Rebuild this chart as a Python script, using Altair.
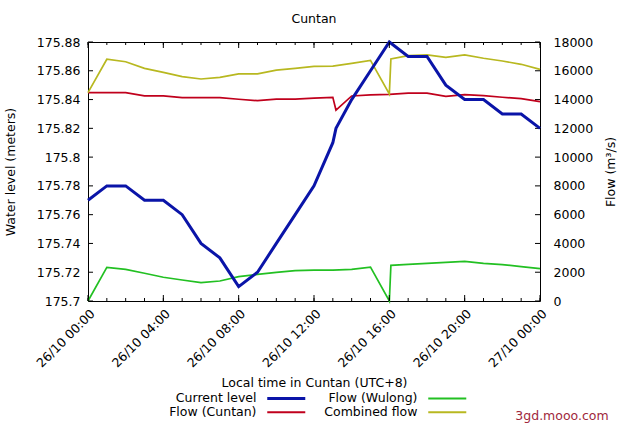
import altair as alt
import pandas as pd

# ---------------- data ----------------
DAY = "2018-10-26"
hours = [f"{DAY}T{h:02d}:00" for h in range(24)] + ["2018-10-27T00:00"]

level_times = hours[:14] + [f"{DAY}T13:10"] + hours[14:]
level_values = [175.77, 175.78, 175.78, 175.77, 175.77, 175.76, 175.74, 175.73,
                175.71, 175.72, 175.74, 175.76, 175.78, 175.81, 175.82,
                175.84, 175.86, 175.88, 175.87, 175.87, 175.85, 175.84, 175.84,
                175.83, 175.83, 175.82]

cuntan_times = level_times
cuntan_flow = [14480, 14480, 14480, 14250, 14250, 14130, 14130, 14130, 14020,
               13920, 14030, 14030, 14100, 14150, 13270,
               14250, 14320, 14360, 14450, 14450, 14220, 14340, 14270, 14160,
               14060, 13850]

wulong_times = hours[:17] + [f"{DAY}T16:05"] + hours[17:]
wulong_flow = [0, 2340, 2200, 1930, 1650, 1460, 1280, 1390, 1690, 1850, 1990,
               2110, 2150, 2150, 2200, 2360, 0, 2480,
               2550, 2620, 2690, 2750, 2620, 2530, 2390, 2250]

combined_times = wulong_times
combined_flow = [14480, 16800, 16630, 16170, 15890, 15590, 15430, 15545, 15780,
                 15780, 16050, 16170, 16300, 16330, 16520, 16720, 14390, 16820,
                 17050, 17100, 16930, 17100, 16870, 16680, 16450, 16100]

series_order = ["Current level", "Flow (Wulong)", "Flow (Cuntan)", "Combined flow"]
series_colors = ["#0a14a8", "#22c022", "#c0001c", "#b8b820"]

level_ticks = [175.70, 175.72, 175.74, 175.76, 175.78, 175.80, 175.82, 175.84, 175.86, 175.88]
flow_ticks = [0, 2000, 4000, 6000, 8000, 10000, 12000, 14000, 16000, 18000]
major_hours = [0, 4, 8, 12, 16, 20, 24]
minor_hours = list(range(25))

title_text = "Cuntan"
x_title = "Local time in Cuntan (UTC+8)"
y_left_title = "Water level (meters)"
y_right_title = "Flow (m³/s)"
watermark = "3gd.mooo.com"

level_df = pd.DataFrame({"time": level_times, "level": level_values,
                         "series": "Current level"})
flow_df = pd.concat([
    pd.DataFrame({"time": cuntan_times, "flow": cuntan_flow, "series": "Flow (Cuntan)"}),
    pd.DataFrame({"time": wulong_times, "flow": wulong_flow, "series": "Flow (Wulong)"}),
    pd.DataFrame({"time": combined_times, "flow": combined_flow, "series": "Combined flow"}),
], ignore_index=True)
wm_df = pd.DataFrame({"t": [watermark]})
minor_df = pd.DataFrame({"time": [hours[h] for h in minor_hours]})
major_df = pd.DataFrame({"time": [hours[h] for h in major_hours]})
lt_df = pd.DataFrame({"level": level_ticks})
ft_df = pd.DataFrame({"flow": flow_ticks})


def dt(h):
    return alt.DateTime(year=2018, month=10, date=26 + h // 24, hours=h % 24)


major_vals = [dt(h) for h in major_hours]

# ---------------- layout ----------------
W, H = 452, 259
FONT = "DejaVu Sans"
FS = 12.5
TICK = "black"

xs = alt.Scale(domain=[dt(0), dt(24)], nice=False)
level_scale = alt.Scale(domain=[175.7, 175.88], nice=False, zero=False)
flow_scale = alt.Scale(domain=[0, 18000], nice=False)

x_axis = alt.Axis(orient="bottom", format="%d/%m %H:%M", values=major_vals,
                  labelAngle=-45, ticks=False, labelPadding=6,
                  title=x_title, titlePadding=7)
level_axis = alt.Axis(orient="left", values=level_ticks, format=".2~f", ticks=False,
                      labelPadding=8, title=y_left_title, titlePadding=19)
flow_axis = alt.Axis(orient="right", values=flow_ticks, format="d", ticks=False,
                     labelPadding=13, title=y_right_title, titleAngle=270,
                     titlePadding=25)

legend = alt.Legend(orient="none", legendX=156, legendY=350, columns=2, direction="horizontal",
                    title=None, symbolType="M2.43,0L7.86,0", symbolSize=196,
                    symbolStrokeWidth={"expr": "datum.value == 'Current level' ? 3 : 2"},
                    labelAlign="right", labelOffset=0,
                    symbolOffset=0, columnPadding=12, rowPadding=1,
                    labelFontSize=FS, labelFont=FONT, labelColor="black")
color_enc = alt.Color("series:N", scale=alt.Scale(domain=series_order, range=series_colors),
                      legend=legend)

# flow group
f_lines = alt.Chart(flow_df).mark_line(strokeWidth=1.7).encode(
    x=alt.X("time:T", scale=xs, axis=x_axis),
    y=alt.Y("flow:Q", scale=flow_scale, axis=flow_axis),
    color=color_enc,
)
f_ticks = alt.Chart(ft_df).mark_rule(color=TICK, strokeWidth=1).encode(
    y=alt.Y("flow:Q", scale=flow_scale, axis=flow_axis),
    x=alt.value(W - 5), x2=alt.value(W),
)
flow_group = alt.layer(f_lines, f_ticks)

# level group
l_line = alt.Chart(level_df).mark_line(strokeWidth=3).encode(
    x=alt.X("time:T", scale=xs, axis=x_axis),
    y=alt.Y("level:Q", scale=level_scale, axis=level_axis),
    color=color_enc,
)
l_ticks = alt.Chart(lt_df).mark_rule(color=TICK, strokeWidth=1).encode(
    y=alt.Y("level:Q", scale=level_scale, axis=level_axis),
    x=alt.value(0), x2=alt.value(5),
)


def xticks(df, y0, y1):
    return alt.Chart(df).mark_rule(color=TICK, strokeWidth=1).encode(
        x=alt.X("time:T", scale=xs, axis=x_axis),
        y=alt.value(y0), y2=alt.value(y1),
    )


level_group = alt.layer(
    l_line, l_ticks,
    xticks(minor_df, 0, 3), xticks(major_df, 0, 6),
    xticks(minor_df, H - 3, H), xticks(major_df, H - 6, H),
)

wm = alt.Chart(wm_df).mark_text(color="#a0283c", font=FONT, fontSize=FS,
                                align="center", baseline="middle").encode(
    text="t:N", x=alt.value(474), y=alt.value(374))

chart = alt.layer(flow_group, level_group, wm).resolve_scale(
    y="independent").properties(
    width=W, height=H,
    title=alt.TitleParams(title_text, font=FONT, fontSize=FS, fontWeight="normal",
                          anchor="middle", offset=11, color="black"),
    padding={"left": 88, "top": 42, "right": 100, "bottom": 127},
    autosize=alt.AutoSizeParams(type="none"),
).configure_view(stroke="black", strokeWidth=1).configure_axis(
    domain=False, grid=False, labelFont=FONT, labelFontSize=FS, labelColor="black",
    titleFont=FONT, titleFontSize=FS, titleFontWeight="normal", titleColor="black",
    tickColor="black", tickWidth=1,
)

chart.save("out.html", embed_options={"renderer": "svg", "actions": False})
